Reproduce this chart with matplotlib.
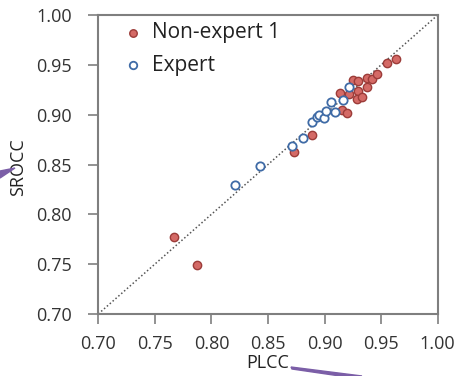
import matplotlib
matplotlib.use('Agg')
import matplotlib.pyplot as plt
from matplotlib.patches import Polygon

plt.rcParams['font.family'] = ['Open Sans', 'DejaVu Sans']

# Non-expert 1 (PLCC, SROCC)
nonexpert_plcc = [0.7672, 0.7869, 0.8730, 0.8886, 0.9137, 0.9151, 0.9201, 0.9213,
                  0.9254, 0.9293, 0.9293, 0.9290, 0.9331, 0.9372, 0.9378, 0.9419,
                  0.9461, 0.9549, 0.9629]
nonexpert_srocc = [0.7773, 0.7488, 0.8629, 0.8793, 0.9217, 0.9043, 0.9020, 0.9211,
                   0.9348, 0.9338, 0.9241, 0.9154, 0.9181, 0.9368, 0.9274, 0.9361,
                   0.9411, 0.9515, 0.9562]

# Expert (PLCC, SROCC)
expert_plcc = [0.8208, 0.8429, 0.8715, 0.8809, 0.8892, 0.8930, 0.8954, 0.8998,
               0.9016, 0.9057, 0.9092, 0.9166, 0.9213]
expert_srocc = [0.8298, 0.8482, 0.8686, 0.8769, 0.8926, 0.8973, 0.9000, 0.8970,
                0.9034, 0.9124, 0.9027, 0.9144, 0.9278]

ticks = [0.70, 0.75, 0.80, 0.85, 0.90, 0.95, 1.00]

fig = plt.figure(figsize=(4.55, 3.76), dpi=100)
ax = fig.add_axes([0.216, 0.165, 0.746, 0.795])

# identity line
ax.plot([0.70, 1.00], [0.70, 1.00], color='#555555', linestyle=(0, (1, 1.5)), linewidth=1.1, zorder=1)

ax.scatter(nonexpert_plcc, nonexpert_srocc, s=36, facecolor='#d46a66', edgecolor='#9c3c39',
           linewidth=1.0, label='Non-expert 1', zorder=3)
ax.scatter(expert_plcc, expert_srocc, s=36, facecolor='white', edgecolor='#3f6ba6',
           linewidth=1.3, label='Expert', zorder=4)

ax.set_xlim(0.70, 1.00)
ax.set_ylim(0.70, 1.00)
ax.set_xticks(ticks)
ax.set_yticks(ticks)
ax.set_xticklabels(['%.2f' % t for t in ticks])
ax.set_yticklabels(['%.2f' % t for t in ticks])
ax.tick_params(direction='out', length=7, width=1.2, color='#7f7f7f',
               labelsize=13, labelcolor='#333333')
ax.tick_params(axis='x', pad=8)
ax.tick_params(axis='y', pad=12)
for s in ax.spines.values():
    s.set_color('#7f7f7f')
    s.set_linewidth(1.5)

ax.set_xlabel('PLCC', fontsize=13, color='#222222', labelpad=0)
ax.set_ylabel('SROCC', fontsize=13, color='#222222', labelpad=0)
ax.yaxis.set_label_coords(-0.21, 0.49)
ax.xaxis.set_label_coords(0.5, -0.135)

leg = ax.legend(loc='upper left', bbox_to_anchor=(0.03, 1.017), frameon=False,
                fontsize=15, handletextpad=0.3, handlelength=1.2, labelspacing=0.55,
                markerscale=0.9, borderaxespad=0.2)
for t in leg.get_texts():
    t.set_color('#222222')

# purple arrow fragments at the edges of the screenshot
W, H = 455.0, 376.0
def px(pts):
    return [(x / W, 1 - y / H) for x, y in pts]
fig.patches.append(Polygon(px([(0, 171), (0, 178), (15, 168)]), closed=True,
                           transform=fig.transFigure, color='#7b5ea7', zorder=0))
fig.patches.append(Polygon(px([(291, 367), (292, 369), (340, 376), (362, 376)]), closed=True,
                           transform=fig.transFigure, color='#7b5ea7', zorder=0))

fig.savefig('out.png', dpi=100)
